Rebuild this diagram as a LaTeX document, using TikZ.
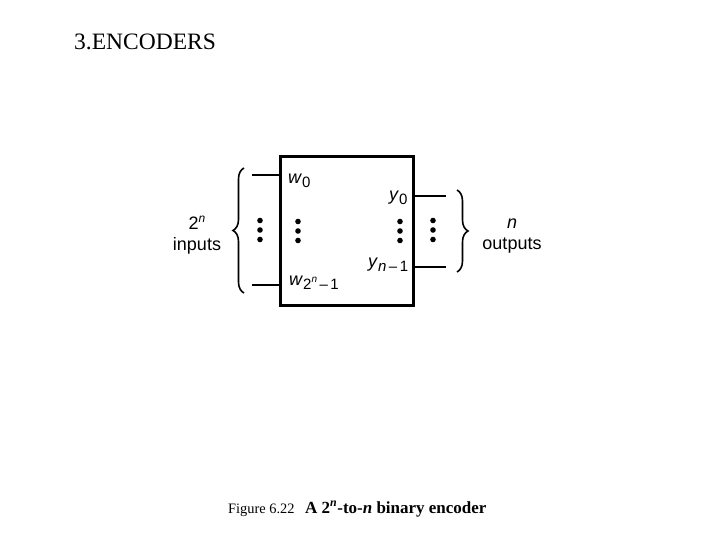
\documentclass[tikz,border=0pt]{standalone}
\usepackage{fontspec}
\setmainfont{Liberation Serif}
\setsansfont{Liberation Sans}
\usetikzlibrary{decorations.pathreplacing, calc}

\newcommand{\lowsub}[1]{\raisebox{-0.45ex}{\fontsize{15}{15}\selectfont #1}}
\newcommand{\vdotcol}[1]{%
  \foreach \k in {0,1,2} \fill ($(#1)+(0,{(\k-1)*9.5})$) circle (2.8);}

\begin{document}
\begin{tikzpicture}[
    x=1pt, y=-1pt,
    encbox/.style={rectangle, draw=black, line width=3pt, minimum width=133pt, minimum height=148pt, inner sep=0pt},
    wire/.style={line width=2.3pt},
    curly/.style={decorate, decoration={brace, amplitude=11pt}, line width=1.6pt},
    lbl/.style={font=\sffamily\fontsize{18}{20}\selectfont, inner sep=0pt},
    pin/.style={font=\sffamily\fontsize{18}{20}\selectfont, inner sep=0pt, anchor=west}
]
    \useasboundingbox (0,0) rectangle (720,540);

    % Title
    \node[font=\fontsize{23.5}{26}\selectfont, anchor=west, inner sep=0pt] (title) at (74,42) {3.ENCODERS};

    % Encoder box
    \node[encbox] (enc) at (346.5,231) {};

    % Input and output wires
    \coordinate (inA) at (252,175);
    \coordinate (inB) at (252,285);
    \coordinate (outA) at (446,196);
    \coordinate (outB) at (446,267);
    \draw[wire] (inA) -- (inA -| enc.west);
    \draw[wire] (inB) -- (inB -| enc.west);
    \draw[wire] (outA -| enc.east) -- (outA);
    \draw[wire] (outB -| enc.east) -- (outB);

    % Pin labels
    \node[pin] (w0) at (288,181) {\textit{w}\lowsub{0}};
    \node[pin] (wlast) at (289,283) {\textit{w}\lowsub{2\raisebox{0.9ex}{\fontsize{10}{10}\selectfont\textit{n}}\,\textendash\,1}};
    \node[pin] (y0) at (389,198) {\textit{y}\lowsub{0}};
    \node[pin] (ylast) at (368,265) {\textit{y}\lowsub{\textit{n}\,\textendash\,1}};

    % Dots
    \coordinate (dotsin) at (260,230);
    \coordinate (dotsw) at (298,231);
    \coordinate (dotsy) at (400,231);
    \coordinate (dotsout) at (433,230);
    \vdotcol{dotsin}
    \vdotcol{dotsw}
    \vdotcol{dotsy}
    \vdotcol{dotsout}

    % Braces
    \coordinate (lbrB) at (244,293);
    \coordinate (lbrT) at (244,168);
    \coordinate (rbrT) at (457,190);
    \coordinate (rbrB) at (457,272);
    \draw[curly] (lbrB) -- (lbrT);
    \draw[curly] (rbrT) -- (rbrB);

    % Group labels
    \node[lbl, align=center] (inlbl) at (197,235) {2\raisebox{0.8ex}{\fontsize{12}{12}\selectfont\textit{n}}\\[1pt]inputs};
    \node[lbl, align=center] (outlbl) at (512,236) {\textit{n}\\[1pt]outputs};

    % Caption
    \node[font=\fontsize{14.4}{16}\selectfont, anchor=base west, inner sep=0pt] (fig) at (228,513) {Figure 6.22};
    \node[font=\bfseries\fontsize{17}{19}\selectfont, anchor=base west, inner sep=0pt] (cap) at (305,513) {A 2\textsuperscript{\textit{n}}-to-\textit{n} binary encoder};
\end{tikzpicture}
\end{document}
